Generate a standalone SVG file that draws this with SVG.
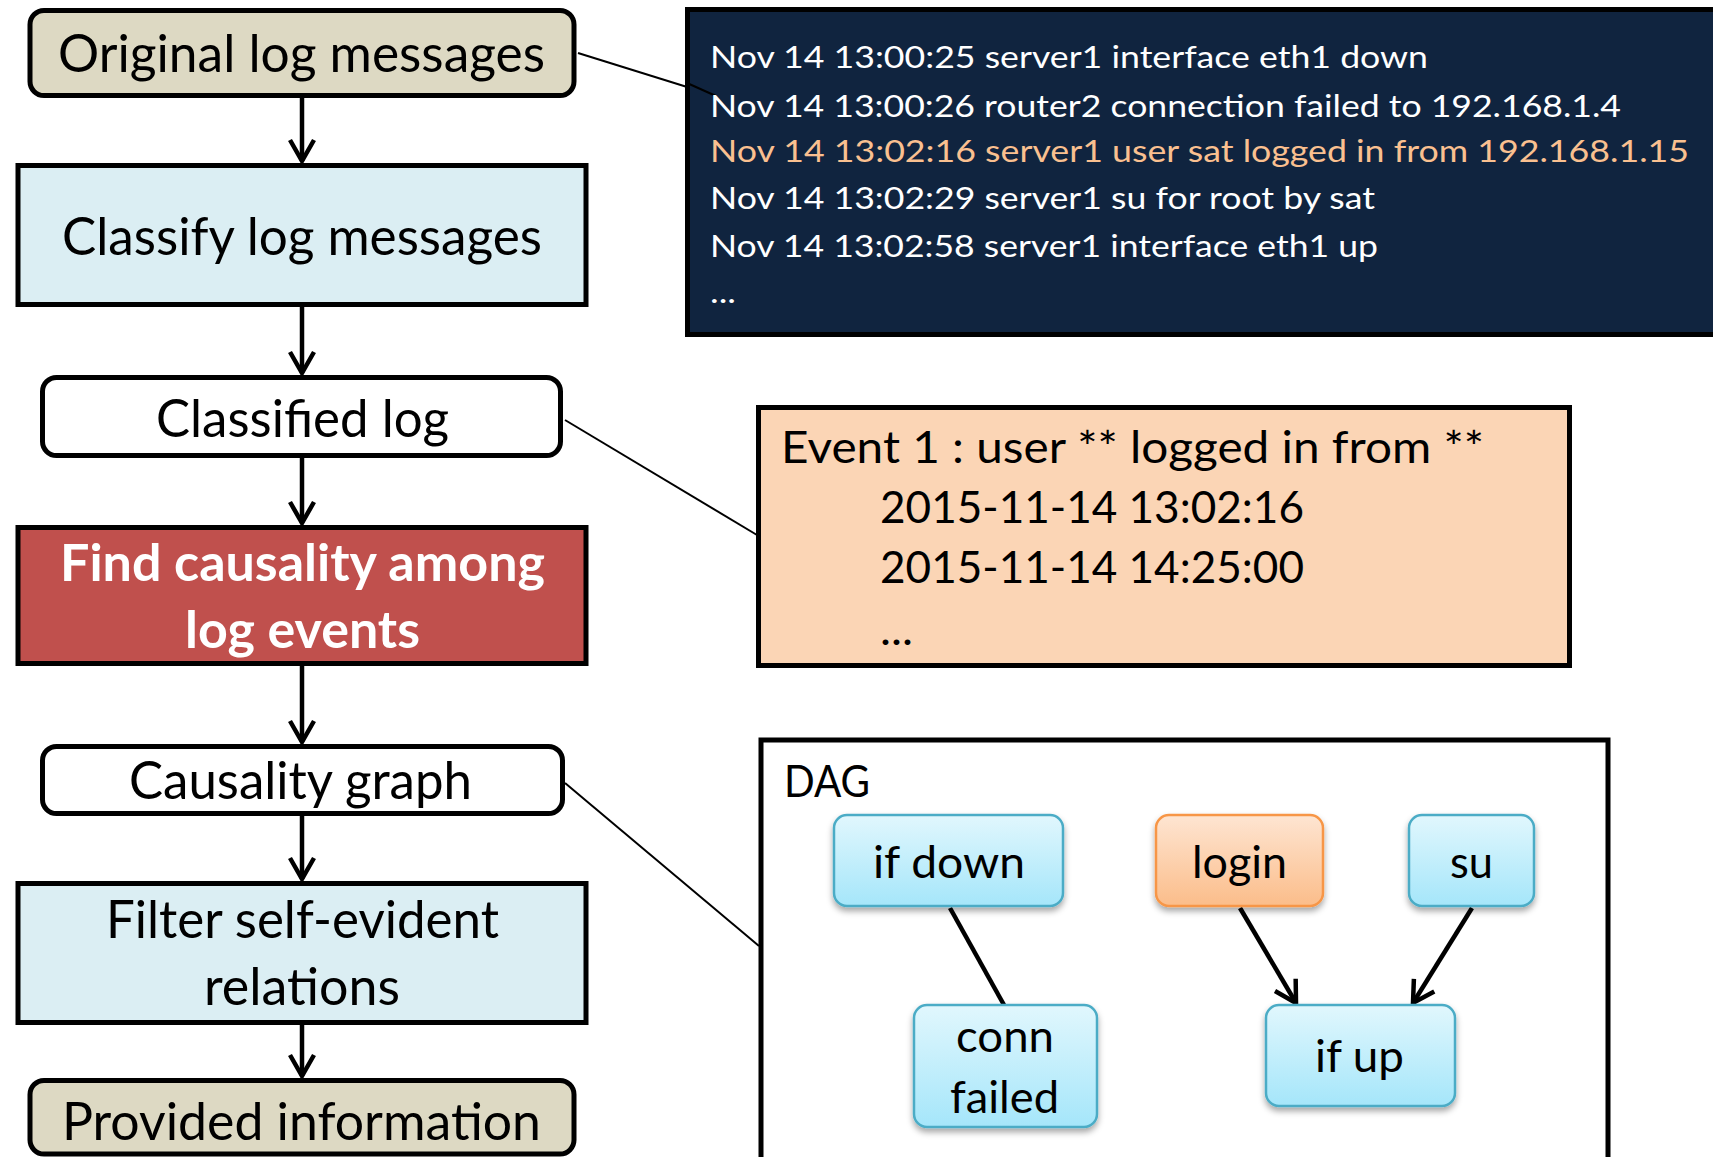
<svg xmlns="http://www.w3.org/2000/svg" width="1713" height="1157" viewBox="0 0 1713 1157">
  <style>
    text { font-family: Lato, "Open Sans", "Liberation Sans", sans-serif; }
    .box { stroke: #000; stroke-width: 5; }
    .tan { fill: #ddd9c3; }
    .blue { fill: #dbeef3; }
    .white { fill: #ffffff; }
    .red { fill: #c0504d; }
    .main { font-size: 52px; fill: #000; text-anchor: middle; }
    .bold { font-weight: bold; fill: #fff; }
    .flow { stroke: #000; stroke-width: 4.5; fill: none; marker-end: url(#vee); }
    .link { stroke: #000; stroke-width: 2; fill: none; }
    .log { font-size: 31px; fill: #ffffff; }
    .hl { fill: #fac090; }
    .ev { font-size: 44px; fill: #000; }
    .node { stroke-width: 2.5; filter: url(#shadow); }
    .cyan { fill: url(#gCyan); stroke: #4bacc6; }
    .peach { fill: url(#gPeach); stroke: #f79646; }
    .nlabel { font-size: 45px; fill: #000; text-anchor: middle; }
    .edge { stroke: #000; stroke-width: 4.5; fill: none; }
  </style>
  <defs>
    <marker id="vee" viewBox="-26 -16 30 32" refX="0" refY="0" markerWidth="30" markerHeight="32" markerUnits="userSpaceOnUse" orient="auto">
      <path d="M-21,-12 L0,0 L-21,12" fill="none" stroke="#000" stroke-width="4.5"/>
    </marker>
    <linearGradient id="gCyan" x1="0" y1="0" x2="0" y2="1">
      <stop offset="0" stop-color="#e1f7fd"/>
      <stop offset="1" stop-color="#a5e6fa"/>
    </linearGradient>
    <linearGradient id="gPeach" x1="0" y1="0" x2="0" y2="1">
      <stop offset="0" stop-color="#fee5d2"/>
      <stop offset="1" stop-color="#fbbd8a"/>
    </linearGradient>
    <filter id="shadow" x="-10%" y="-10%" width="120%" height="130%">
      <feDropShadow dx="0" dy="4" stdDeviation="3" flood-color="#000" flood-opacity="0.35"/>
    </filter>
  </defs>

  <!-- callout leader lines -->
  <g id="leaders">
    <line class="link" x1="578" y1="53" x2="716" y2="96"/>
    <line class="link" x1="565" y1="420" x2="757" y2="535"/>
    <line class="link" x1="565" y1="783" x2="759" y2="946"/>
  </g>

  <!-- raw syslog panel -->
  <g id="raw-log">
    <rect x="687.5" y="9.5" width="1040" height="325" fill="#10243f" stroke="#000" stroke-width="5"/>
    <line class="link" x1="687" y1="83" x2="716" y2="96"/>
    <text class="log" x="710" y="68" textLength="718" lengthAdjust="spacingAndGlyphs">Nov 14 13:00:25 server1 interface eth1 down</text>
    <text class="log" x="710" y="117" textLength="911" lengthAdjust="spacingAndGlyphs">Nov 14 13:00:26 router2 connection failed to 192.168.1.4</text>
    <text class="log hl" x="710" y="162" textLength="979" lengthAdjust="spacingAndGlyphs">Nov 14 13:02:16 server1 user sat logged in from 192.168.1.15</text>
    <text class="log" x="710" y="209" textLength="665" lengthAdjust="spacingAndGlyphs">Nov 14 13:02:29 server1 su for root by sat</text>
    <text class="log" x="710" y="257" textLength="668" lengthAdjust="spacingAndGlyphs">Nov 14 13:02:58 server1 interface eth1 up</text>
    <text class="log" x="710" y="303" textLength="26" lengthAdjust="spacingAndGlyphs">...</text>
  </g>

  <!-- event panel -->
  <g id="event-panel">
    <rect x="758.5" y="407.5" width="811" height="258" fill="#fbd5b5" stroke="#000" stroke-width="5"/>
    <text class="ev" x="781" y="463" textLength="703" lengthAdjust="spacingAndGlyphs">Event 1 : user ** logged in from **</text>
    <text class="ev" x="880" y="523" textLength="424" lengthAdjust="spacingAndGlyphs">2015-11-14 13:02:16</text>
    <text class="ev" x="880" y="583" textLength="424" lengthAdjust="spacingAndGlyphs">2015-11-14 14:25:00</text>
    <text class="ev" x="880" y="645" textLength="33" lengthAdjust="spacingAndGlyphs">...</text>
  </g>

  <!-- DAG panel -->
  <g id="dag-panel">
    <rect x="761" y="740" width="847" height="430" fill="#ffffff" stroke="#000" stroke-width="5"/>
    <text x="784" y="797" font-size="45" textLength="86" lengthAdjust="spacingAndGlyphs">DAG</text>
  </g>

  <!-- DAG edges -->
  <g id="dag-edges">
    <line class="edge" x1="950" y1="908" x2="1004" y2="1005"/>
    <line class="edge" x1="1240" y1="908" x2="1296" y2="1003" marker-end="url(#vee)"/>
    <line class="edge" x1="1472" y1="908" x2="1413" y2="1003" marker-end="url(#vee)"/>
  </g>

  <!-- DAG nodes -->
  <g id="n-ifdown">
    <rect class="node cyan" x="834" y="815" width="229" height="91" rx="13"/>
    <text class="nlabel" x="949" y="878" textLength="152" lengthAdjust="spacingAndGlyphs">if down</text>
  </g>
  <g id="n-login">
    <rect class="node peach" x="1156" y="815" width="167" height="91" rx="13"/>
    <text class="nlabel" x="1239.5" y="878" textLength="95" lengthAdjust="spacingAndGlyphs">login</text>
  </g>
  <g id="n-su">
    <rect class="node cyan" x="1409" y="815" width="125" height="91" rx="13"/>
    <text class="nlabel" x="1471.5" y="878" textLength="43" lengthAdjust="spacingAndGlyphs">su</text>
  </g>
  <g id="n-connfailed">
    <rect class="node cyan" x="914" y="1005" width="183" height="122" rx="13"/>
    <text class="nlabel" x="1005" y="1052" textLength="98" lengthAdjust="spacingAndGlyphs">conn</text>
    <text class="nlabel" x="1004.5" y="1113" textLength="109" lengthAdjust="spacingAndGlyphs">failed</text>
  </g>
  <g id="n-ifup">
    <rect class="node cyan" x="1266" y="1005" width="189" height="101" rx="13"/>
    <text class="nlabel" x="1359.5" y="1072" textLength="89" lengthAdjust="spacingAndGlyphs">if up</text>
  </g>

  <!-- pipeline arrows -->
  <g id="pipeline-arrows">
    <line class="flow" x1="302" y1="98" x2="302" y2="161"/>
    <line class="flow" x1="302" y1="307" x2="302" y2="373"/>
    <line class="flow" x1="302" y1="458" x2="302" y2="523"/>
    <line class="flow" x1="302" y1="666" x2="302" y2="742"/>
    <line class="flow" x1="302" y1="816" x2="302" y2="879"/>
    <line class="flow" x1="302" y1="1025" x2="302" y2="1076"/>
  </g>

  <!-- pipeline steps -->
  <g id="s-original">
    <rect class="box tan" x="30" y="10.5" width="544" height="85" rx="14"/>
    <text class="main" x="301.5" y="72" textLength="487" lengthAdjust="spacingAndGlyphs">Original log messages</text>
  </g>
  <g id="s-classify">
    <rect class="box blue" x="18" y="165.5" width="568" height="139"/>
    <text class="main" x="302" y="255" textLength="480" lengthAdjust="spacingAndGlyphs">Classify log messages</text>
  </g>
  <g id="s-classified">
    <rect class="box white" x="42.5" y="377.5" width="518" height="78" rx="14"/>
    <text class="main" x="302.5" y="437" textLength="293" lengthAdjust="spacingAndGlyphs">Classified log</text>
  </g>
  <g id="s-causality">
    <rect class="box red" x="18" y="527.5" width="568" height="136"/>
    <text class="main bold" x="302.5" y="581" textLength="485" lengthAdjust="spacingAndGlyphs">Find causality among</text>
    <text class="main bold" x="302.5" y="648" textLength="235" lengthAdjust="spacingAndGlyphs">log events</text>
  </g>
  <g id="s-graph">
    <rect class="box white" x="42.5" y="746.5" width="520" height="67" rx="14"/>
    <text class="main" x="300.5" y="799" textLength="343" lengthAdjust="spacingAndGlyphs">Causality graph</text>
  </g>
  <g id="s-filter">
    <rect class="box blue" x="18" y="883.5" width="568" height="139"/>
    <text class="main" x="302.5" y="938" textLength="393" lengthAdjust="spacingAndGlyphs">Filter self-evident</text>
    <text class="main" x="302" y="1005" textLength="196" lengthAdjust="spacingAndGlyphs">relations</text>
  </g>
  <g id="s-provided">
    <rect class="box tan" x="30" y="1080.5" width="544" height="73.5" rx="14"/>
    <text class="main" x="301.5" y="1140" textLength="479" lengthAdjust="spacingAndGlyphs">Provided information</text>
  </g>
</svg>
